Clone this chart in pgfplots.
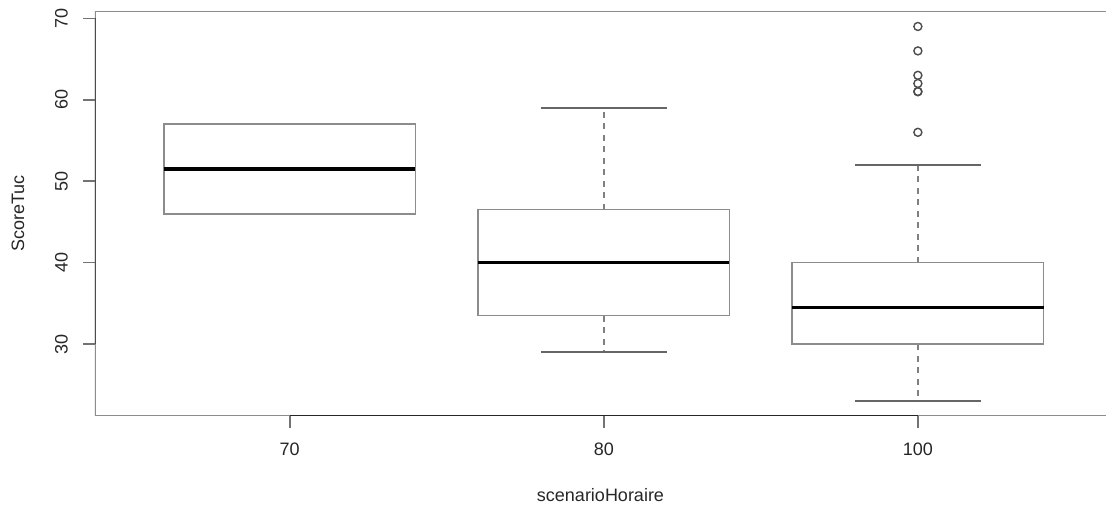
\documentclass[border=0pt]{standalone}
\usepackage{fontspec}
\setmainfont{Liberation Sans}
\usepackage{pgfplots}
\pgfplotsset{compat=1.18}
\usepgfplotslibrary{statistics}
\pgfplotsset{
  rbox/.style={
    /pgfplots/boxplot/every box/.style={black!45, line width=1.6pt, solid},
    /pgfplots/boxplot/every median/.style={black, line width=3.3pt, solid},
    /pgfplots/boxplot/every whisker/.style={black!50, line width=1.6pt, dash pattern=on 6pt off 5.5pt},
    /pgfplots/boxplot/draw/whisker/.code 2 args={%
      \draw[black!50, line width=1.6pt, dash pattern=on 6pt off 5.5pt]
        (boxplot box cs:##1,0.5) -- (boxplot box cs:##2,0.5);
      \draw[black!60, line width=1.6pt, solid]
        (boxplot whisker cs:##2,0) -- (boxplot whisker cs:##2,1);
    },
  },
}
\begin{document}
\begin{tikzpicture}
\begin{axis}[
  scale only axis,
  width=1011pt, height=404.5pt,
  xmin=0.38, xmax=3.599,
  ymin=21.16, ymax=70.84,
  axis line style={draw=none},
  font=\fontsize{18}{20}\selectfont,
  /pgf/number format/assume math mode=true,
  xtick={1,2,3}, xticklabels={70,80,100},
  ytick={30,40,50,60,70},
  xtick pos=bottom, ytick pos=left,
  tick align=outside,
  major tick length=12pt,
  tick style={black!55, line width=1.6pt},
  xticklabel style={anchor=center, yshift=-21.5pt, text=black!85},
  yticklabel style={rotate=90, anchor=center, yshift=21.5pt, text=black!85},
  xlabel={scenarioHoraire},
  ylabel={ScoreTuc},
  xlabel style={at={(axis description cs:0.5,-0.195)}, anchor=center, text=black!85},
  ylabel style={at={(axis description cs:-0.0762,0.5)}, anchor=center, text=black!85},
  boxplot/draw direction=y,
  boxplot/box extend=0.8,
  boxplot/whisker extend=0.4,
]
\addplot[rbox, boxplot prepared={draw position=1, lower whisker=46, lower quartile=46,
  median=51.5, upper quartile=57, upper whisker=57}, mark=none] coordinates {};
\addplot[rbox, boxplot prepared={draw position=2, lower whisker=29, lower quartile=33.5,
  median=40, upper quartile=46.5, upper whisker=59}, mark=none] coordinates {};
\addplot[rbox, boxplot prepared={draw position=3, lower whisker=23, lower quartile=30,
  median=34.5, upper quartile=40, upper whisker=52},
  mark=o, mark size=4pt, mark options={black!70, line width=1.4pt, solid}]
  coordinates {(3,56) (3,61) (3,61) (3,62) (3,63) (3,66) (3,69)};
\draw[black!45, line width=1.6pt] (rel axis cs:0,0) -- (rel axis cs:1,0);
\draw[black!45, line width=1.6pt] (rel axis cs:1,1) -- (rel axis cs:0,1) -- (rel axis cs:0,0);
\draw[black!85, line width=1.8pt] (axis cs:1,21.16) -- (axis cs:3,21.16);
\draw[black!70, line width=1.8pt] (axis cs:0.38,30) -- (axis cs:0.38,70);
\coordinate (sw) at (rel axis cs:0,0);
\coordinate (ne) at (rel axis cs:1,1);
\end{axis}
\pgfresetboundingbox
\path[use as bounding box] ([xshift=-95pt,yshift=-91pt]sw) rectangle ([yshift=11.5pt]ne);
\end{tikzpicture}
\end{document}
